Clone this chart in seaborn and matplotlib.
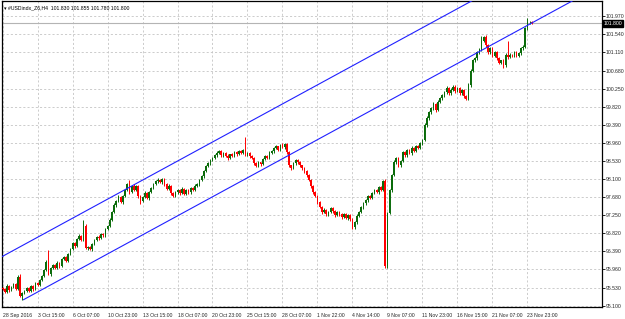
import numpy as np
import pandas as pd
import matplotlib
matplotlib.use("Agg")
import matplotlib.pyplot as plt
import seaborn as sns

# --- H4 closes (28 Sep -> 23 Nov 2016) ---
closes = [
    95.50, 95.43, 95.57, 95.47, 95.54, 95.61, 95.50, 95.78, 95.33, 95.40,
    95.45, 95.52, 95.45, 95.57, 95.50, 95.64, 95.59, 95.71, 95.80, 95.95,
    96.14, 95.85, 95.99, 96.06, 95.99, 96.11, 96.04, 96.21, 96.25, 96.16,
    96.33, 96.44, 96.59, 96.51, 96.68, 96.75, 96.66, 96.99, 96.47, 96.49,
    96.44, 96.56, 96.66, 96.73, 96.70, 96.80, 96.77, 96.92, 96.99, 97.13,
    97.32, 97.49, 97.58, 97.68, 97.56, 97.70, 97.84, 97.98, 97.79, 97.94,
    97.84, 97.94, 97.70, 97.58, 97.68, 97.77, 97.65, 97.79, 97.89, 97.98,
    98.05, 98.08, 98.03, 98.10, 97.98, 97.87, 97.94, 97.77, 97.70, 97.79,
    97.84, 97.77, 97.87, 97.75, 97.84, 97.79, 97.89, 97.84, 97.94, 97.98,
    98.08, 98.17, 98.29, 98.41, 98.48, 98.55, 98.60, 98.67, 98.72, 98.77,
    98.67, 98.72, 98.65, 98.60, 98.69, 98.65, 98.74, 98.69, 98.77, 98.72,
    98.79, 98.69, 98.72, 98.65, 98.60, 98.48, 98.41, 98.50, 98.46, 98.58,
    98.65, 98.60, 98.72, 98.77, 98.84, 98.88, 98.79, 98.91, 98.86, 98.93,
    98.74, 98.43, 98.36, 98.48, 98.55, 98.50, 98.43, 98.36, 98.29, 98.20,
    98.08, 97.94, 97.79, 97.70, 97.56, 97.44, 97.32, 97.37, 97.27, 97.32,
    97.41, 97.34, 97.25, 97.32, 97.27, 97.20, 97.27, 97.18, 97.25, 97.15,
    96.96, 97.08, 97.23, 97.32, 97.44, 97.53, 97.60, 97.70, 97.65, 97.77,
    97.84, 97.79, 97.91, 97.84, 98.05, 96.04, 97.30, 97.84, 98.20, 98.50,
    98.60, 98.43, 98.53, 98.74, 98.67, 98.79, 98.72, 98.84, 98.77, 98.88,
    98.84, 98.95, 99.03, 99.38, 99.55, 99.69, 99.78, 99.88, 99.74, 99.93,
    100.02, 100.09, 100.16, 100.26, 100.14, 100.23, 100.30, 100.19, 100.26, 100.14,
    100.21, 100.07, 100.00, 100.33, 100.68, 100.92, 100.97, 101.11, 101.18, 101.39,
    101.47, 101.28, 101.11, 101.21, 101.02, 101.11, 100.97, 100.87, 100.92, 100.80,
    101.06, 101.00, 101.06, 101.04, 101.11, 101.02, 101.09, 101.21, 101.25, 101.68,
    101.82, 101.83, 101.80,
]
first_open = 95.52

# wick lengths above / below the body, in hundredths
upper_wick = [
    3, 2, 4, 2, 3, 2, 3, 4, 7, 2,   2, 3, 2, 3, 2, 3, 2, 3, 2, 3,
    4, 28, 3, 2, 3, 4, 2, 3, 3, 2,  3, 4, 3, 2, 3, 4, 3, 14, 5, 3,
    2, 3, 3, 2, 4, 3, 2, 3, 3, 4,   3, 4, 3, 5, 2, 3, 4, 3, 10, 3,
    4, 2, 3, 2, 3, 4, 2, 3, 3, 2,   3, 4, 2, 3, 2, 3, 4, 2, 3, 2,
    3, 2, 4, 3, 2, 3, 2, 3, 4, 3,   2, 3, 3, 4, 2, 3, 3, 2, 4, 3,
    3, 2, 3, 4, 2, 3, 2, 3, 3, 2,   4, 31, 3, 2, 3, 2, 3, 4, 2, 3,
    3, 2, 4, 3, 3, 4, 2, 3, 4, 3,   4, 3, 2, 3, 4, 2, 3, 2, 3, 2,
    3, 2, 3, 4, 2, 3, 2, 4, 3, 2,   3, 4, 2, 3, 2, 3, 4, 2, 3, 3,
    3, 2, 4, 3, 2, 3, 4, 3, 2, 3,   3, 4, 2, 3, 4, 5, 3, 4, 3, 5,
    4, 3, 2, 4, 3, 3, 2, 4, 3, 3,   3, 4, 3, 5, 4, 3, 4, 5, 3, 4,
    3, 4, 3, 5, 3, 4, 3, 3, 4, 3,   4, 3, 2, 5, 4, 3, 4, 3, 3, 10,
    4, 5, 3, 4, 3, 4, 3, 3, 2, 4,   3, 32, 3, 2, 3, 4, 2, 3, 3, 4,
    10, 3, 3,
]
lower_wick = [
    3, 3, 2, 4, 3, 2, 3, 2, 3, 9,   3, 2, 3, 2, 4, 3, 2, 3, 2, 3,
    3, 3, 4, 2, 3, 3, 4, 2, 3, 3,   2, 3, 3, 4, 2, 3, 3, 2, 3, 4,
    3, 4, 2, 3, 3, 2, 4, 3, 2, 3,   3, 2, 4, 3, 3, 4, 2, 3, 3, 2,
    3, 3, 4, 7, 2, 3, 3, 4, 2, 3,   2, 3, 3, 4, 3, 2, 3, 4, 3, 3,
    3, 4, 3, 2, 3, 3, 4, 3, 2, 3,   3, 2, 3, 2, 3, 3, 2, 3, 3, 2,
    3, 3, 2, 4, 3, 2, 3, 3, 2, 3,   2, 3, 3, 4, 3, 4, 3, 2, 4, 3,
    3, 3, 2, 3, 4, 2, 3, 3, 2, 3,   3, 4, 3, 2, 3, 3, 4, 3, 3, 4,
    3, 4, 3, 3, 4, 3, 4, 3, 3, 4,   3, 3, 4, 3, 3, 4, 3, 3, 4, 3,
    4, 3, 3, 2, 3, 4, 3, 3, 2, 3,   3, 2, 3, 3, 2, 5, 5, 3, 4, 3,
    3, 4, 3, 3, 4, 3, 3, 4, 3, 3,   3, 3, 4, 3, 3, 4, 3, 3, 4, 3,
    3, 4, 3, 3, 4, 3, 3, 4, 3, 3,   3, 4, 3, 3, 4, 3, 4, 3, 3, 3,
    3, 4, 3, 4, 3, 3, 4, 3, 4, 5,   3, 4, 3, 3, 4, 3, 3, 3, 4, 3,
    3, 3, 2,
]

tick_bars = list(range(0, 241, 16))
tick_labels = ["28 Sep 2016", "3 Oct 15:00", "6 Oct 07:00", "10 Oct 23:00",
               "13 Oct 15:00", "18 Oct 07:00", "20 Oct 23:00", "25 Oct 15:00",
               "28 Oct 07:00", "1 Nov 22:00", "4 Nov 14:00", "9 Nov 07:00",
               "11 Nov 23:00", "16 Nov 15:00", "21 Nov 07:00", "23 Nov 23:00"]
price_levels = [101.970, 101.540, 101.110, 100.680, 100.250, 99.820, 99.390,
                98.960, 98.530, 98.100, 97.680, 97.250, 96.820, 96.390,
                95.960, 95.530, 95.100]

# equidistant channel: lower line anchors + width
channel_bars = [9.5, 241]
channel_lower = [95.24, 101.78]
channel_width = 1.30

header = "#USDindx_Z6,H4  101.830 101.855 101.780 101.800"
last_price = 101.800

# --- frame ---
df = pd.DataFrame({"close": closes})
df["bar"] = np.arange(len(df))
df["open"] = [first_open] + closes[:-1]
df["high"] = df[["open", "close"]].max(axis=1) + np.array(upper_wick) / 100
df["low"] = df[["open", "close"]].min(axis=1) - np.array(lower_wick) / 100
df["bull"] = df["close"] >= df["open"]

sns.set_style("white")
plt.rcParams["font.family"] = ["Liberation Sans", "DejaVu Sans"]
FS = 3.7

fig = plt.figure(figsize=(6.25, 3.19), dpi=100)
ax = fig.add_axes([2 / 625, 12 / 319, 600 / 625, 306 / 319])

x_left, x_right = -0.25, 274.1
ax.set_xlim(x_left, x_right)
ax.set_ylim(95.069, 102.33)

green, red = "#0a6b0a", "#ff0000"
col = np.where(df["bull"], green, red)

ax.vlines(df["bar"], df["low"], df["high"], colors=col, lw=0.7, zorder=3)
body = (df["close"] - df["open"]).abs().clip(lower=0.012)
ax.bar(df["bar"], body, bottom=df[["open", "close"]].min(axis=1),
       width=0.72, color=col, linewidth=0, zorder=3)

# channel lines
slope = (channel_lower[1] - channel_lower[0]) / (channel_bars[1] - channel_bars[0])
lo_x = [channel_bars[0], x_right]
lo_y = [channel_lower[0], channel_lower[0] + slope * (x_right - channel_bars[0])]
up_x = [x_left, x_right]
up_y = [channel_lower[0] + channel_width + slope * (x - channel_bars[0]) for x in up_x]
sns.lineplot(x=lo_x, y=lo_y, ax=ax, color="#2020ff", lw=0.8, zorder=4)
sns.lineplot(x=up_x, y=up_y, ax=ax, color="#2020ff", lw=0.8, zorder=4)

# current price line
ax.axhline(last_price, color="#b4b4b4", lw=0.8, zorder=2)

# grid + ticks
ax.set_xticks(tick_bars)
ax.set_xticklabels(tick_labels, ha="left", fontsize=FS)
ax.set_yticks(price_levels)
ax.set_yticklabels([f"{v:.3f}" for v in price_levels], fontsize=FS)
ax.yaxis.tick_right()
ax.tick_params(axis="both", length=2, width=0.6, color="black", pad=0.6)
ax.tick_params(axis="x", pad=2)
ax.grid(True, color="#c4c4c4", lw=0.6, linestyle=(0, (2.5, 2.5)))
ax.set_axisbelow(True)
for s in ax.spines.values():
    s.set_color("black")
    s.set_linewidth(0.9)
ax.set_xlabel("")
ax.set_ylabel("")

# header + price tag
fig.text(4 / 625, 1 - 8 / 319, "\u25be " + header, fontsize=FS,
         va="center", ha="left", color="black")
ax.annotate(f"{last_price:.3f}", xy=(1.0, last_price),
            xycoords=("axes fraction", "data"), xytext=(1.2, 0),
            textcoords="offset points", fontsize=FS, color="white",
            va="center", ha="left",
            bbox=dict(boxstyle="square,pad=0.15", fc="black", ec="black"))

fig.savefig("out.png", dpi=100)
plt.close(fig)
